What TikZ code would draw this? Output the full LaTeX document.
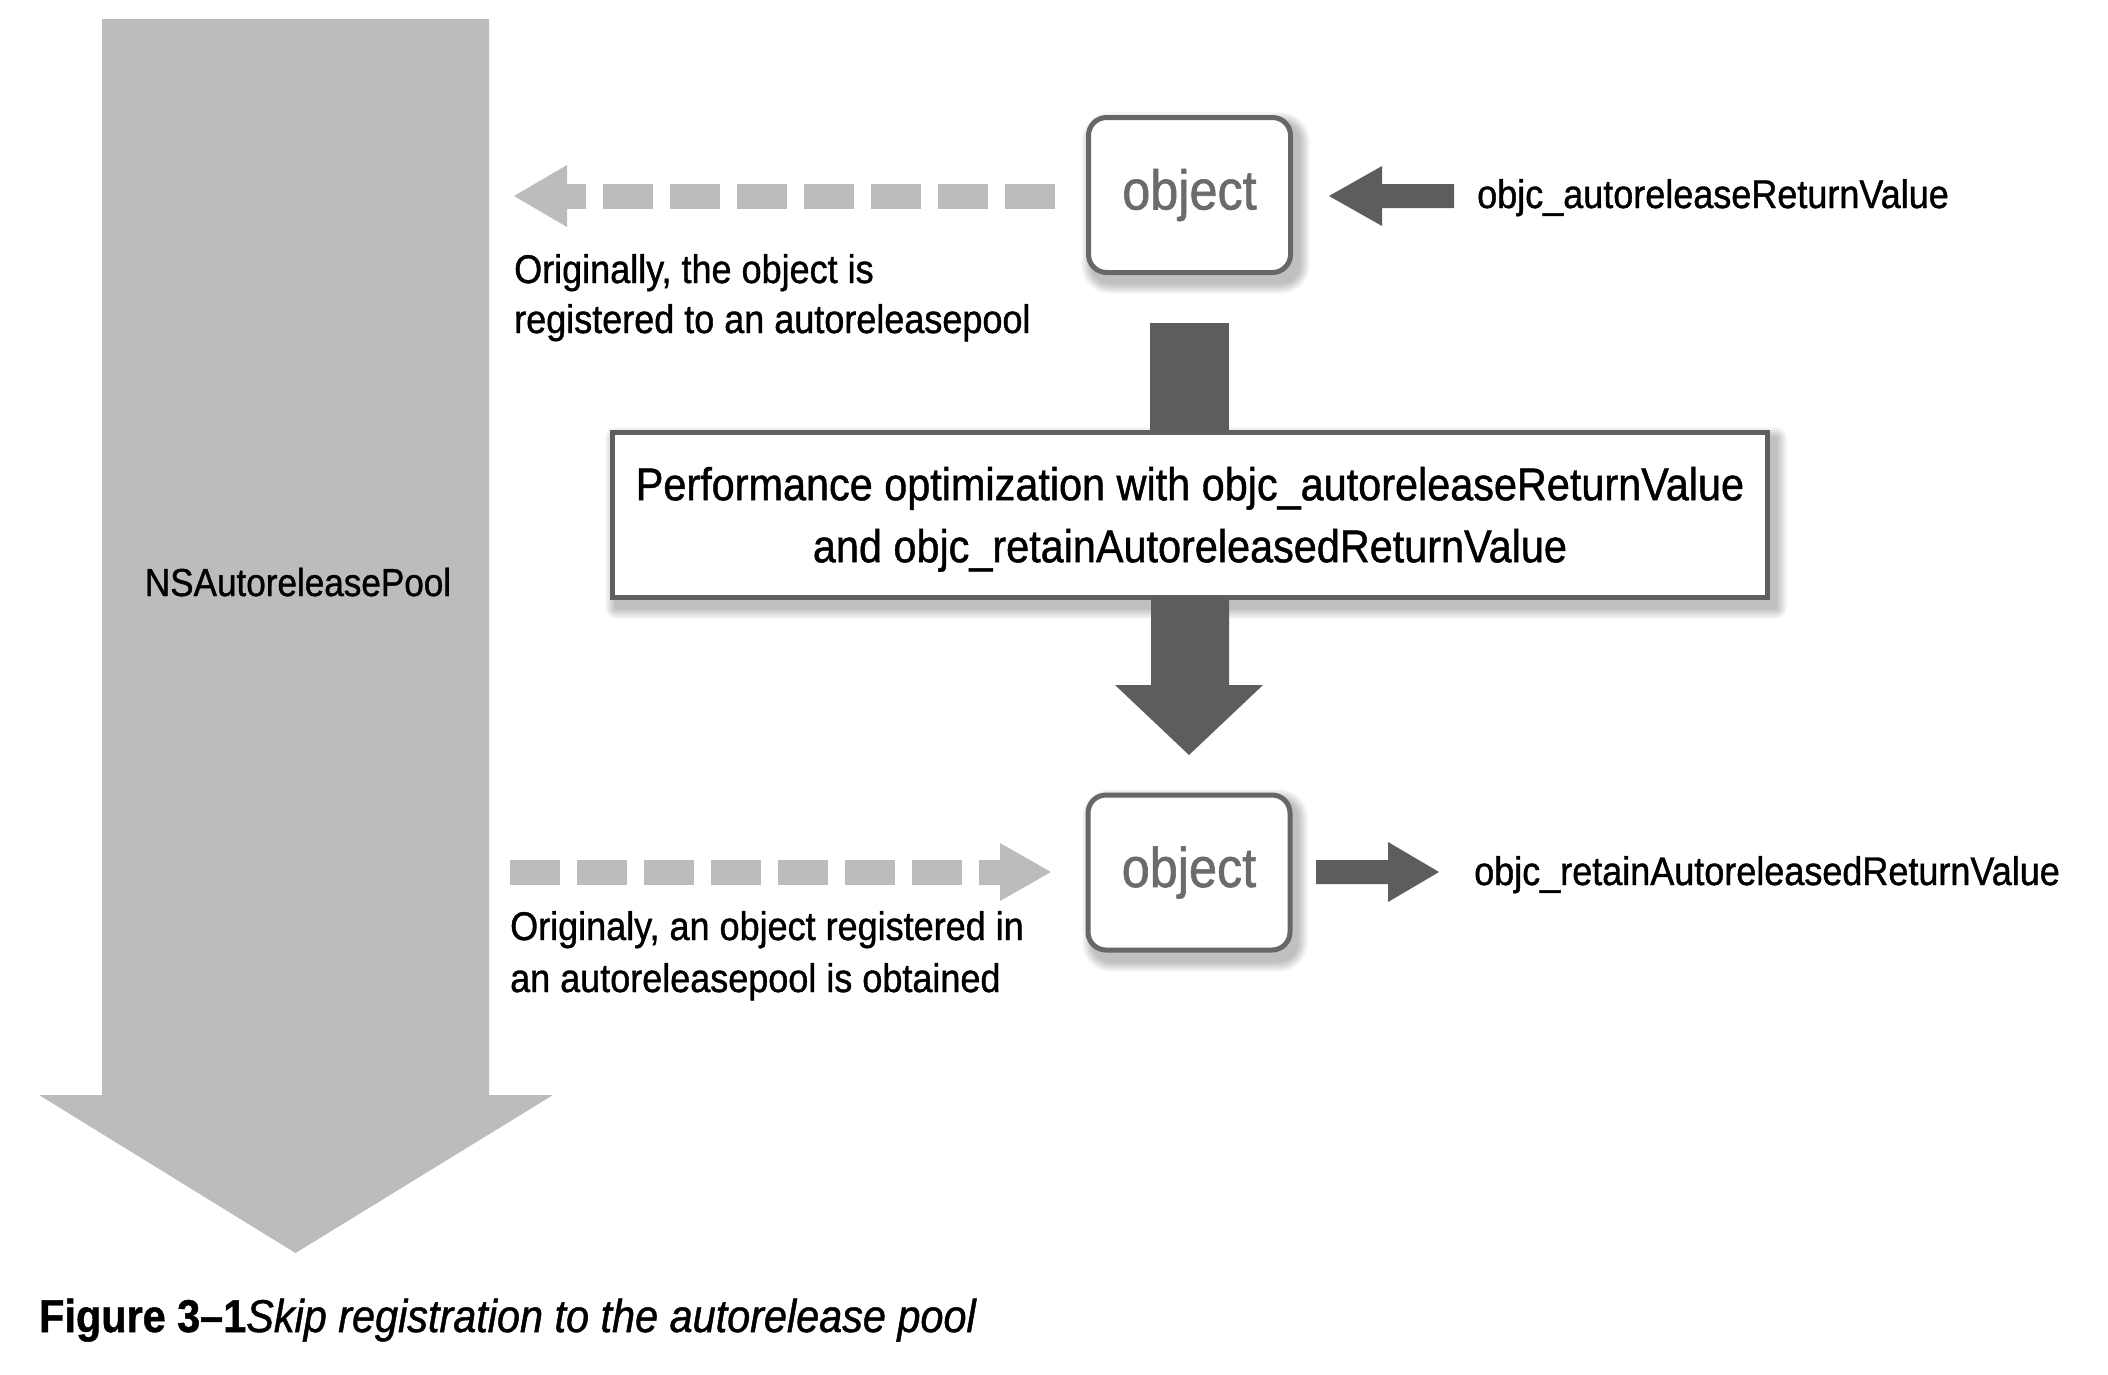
\documentclass[tikz,border=0pt]{standalone}
\usepackage{fontspec}
\setmainfont{Liberation Sans}[FakeStretch=0.9,FakeBold=1]
\usetikzlibrary{calc}
\definecolor{lightarrow}{HTML}{BDBCBD}
\definecolor{darkarrow}{HTML}{5F5C5C}
\definecolor{boxline}{HTML}{676767}
\definecolor{objtext}{HTML}{6B6B6B}
\newcommand\softshadow[5]{%
  \foreach \i in {1,...,11}{%
    \pgfmathsetmacro\rr{#5+\i}%
    \fill[black,opacity=0.024,rounded corners=\rr pt] ({#1+6-\i},{#2+8-\i}) rectangle ({#3+6+\i},{#4+8+\i});%
  }}
\tikzset{
  objbox/.style={draw=boxline, line width=5pt, fill=white, rounded corners=18pt,
    minimum width=202pt, minimum height=155pt, inner sep=0pt, text=objtext,
    font=\fontsize{56}{60}\selectfont},
  perfbox/.style={draw=boxline!92!black, line width=5pt, fill=white,
    minimum width=1155pt, minimum height=165pt, inner sep=0pt, align=center,
    font=\fontsize{46}{62}\selectfont},
  txtlbl/.style={inner sep=0pt, anchor=base west, font=\fontsize{40}{50}\selectfont},
  lightfat/.style={fill=lightarrow},
  darkfat/.style={fill=darkarrow},
  dashline/.style={draw=lightarrow, line width=25pt, dash pattern=on 50pt off 17pt},
}
\begin{document}
\begin{tikzpicture}[x=1pt,y=-1pt]
\useasboundingbox[fill=white] (0,0) rectangle (2108,1374);

% big NSAutoreleasePool arrow
\fill[lightfat] (102,19) -- (489,19) -- (489,1095) -- (553,1095) -- (295.5,1253)
  -- (39,1095) -- (102,1095) -- cycle;
\node[inner sep=0pt, anchor=base, font=\fontsize{39}{45}\selectfont] (pool) at (298,596) {NSAutoreleasePool};

% shadows
\softshadow{1086}{115}{1293}{275}{18}
\softshadow{1087}{792}{1291}{953}{18}
\softshadow{610}{430}{1770}{600}{0}

% vertical dark arrow (upper shaft, behind box)
\fill[darkfat] (1150,323) rectangle (1229,440);

% boxes
\node[objbox] (obj1) at (1189.5,195) {object};
\node[objbox] (obj2) at (1189,872.5) {object};
\node[perfbox] (perf) at (1190,515) {\rule{0pt}{42pt}Performance optimization with objc\_autoreleaseReturnValue\\and objc\_retainAutoreleasedReturnValue};

% lower vertical arrow
\fill[darkfat] (1151,598) -- (1229,598) -- (1229,685) -- (1263,685) -- (1189,755)
  -- (1115,685) -- (1151,685) -- cycle;

% top dashed arrow (object -> pool)
\coordinate (d1s) at (1055,196);
\coordinate (d1e) at (567,196);
\draw[dashline] (d1s) -- (d1e);
\fill[lightfat] (567,165) -- (514,196) -- (567,227) -- cycle;

% bottom dashed arrow (pool -> object)
\coordinate (d2s) at (510,872);
\coordinate (d2e) at (1000,872);
\draw[dashline] (d2s) -- (d2e);
\fill[lightfat] (1000,843) -- (1051,872) -- (1000,901) -- cycle;

% top dark arrow (label -> object)
\fill[darkfat] (1454,184) -- (1382,184) -- (1382,166) -- (1329,196) -- (1382,226)
  -- (1382,208) -- (1454,208) -- cycle;
% bottom dark arrow (object -> label)
\fill[darkfat] (1316,860) -- (1388,860) -- (1388,842) -- (1439,872) -- (1388,902)
  -- (1388,884) -- (1316,884) -- cycle;

% labels
\node[txtlbl] (lbl1) at (1477,208) {objc\_autoreleaseReturnValue};
\node[txtlbl] (lbl2) at (1474,885) {objc\_retainAutoreleasedReturnValue};
\node[txtlbl] (note1a) at (514,283) {Originally, the object is};
\node[txtlbl] (note1b) at (514,333) {registered to an autoreleasepool};
\node[txtlbl] (note2a) at (510,940) {Originaly, an object registered in};
\node[txtlbl] (note2b) at (510,992) {an autoreleasepool is obtained};

% caption
\node[inner sep=0pt, anchor=base west, font=\fontsize{46}{50}\selectfont] (cap) at (39,1332)
  {\textbf{Figure 3–1}\textit{Skip registration to the autorelease pool}};
\end{tikzpicture}
\end{document}
